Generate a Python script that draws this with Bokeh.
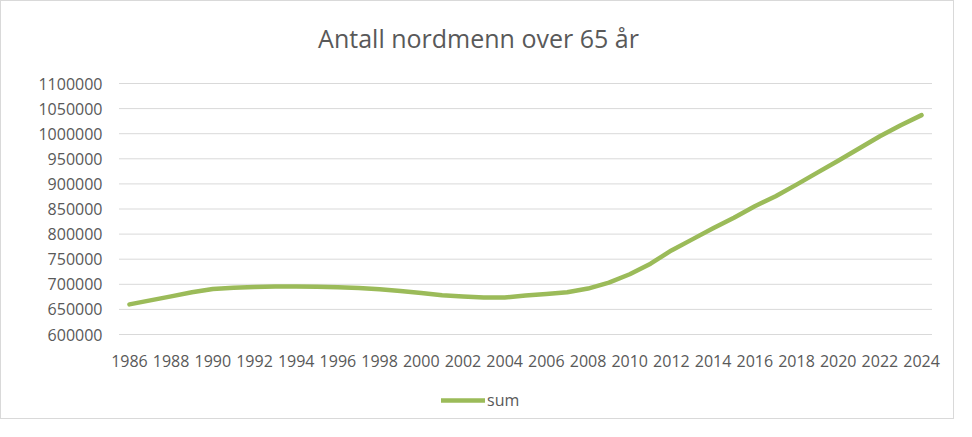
from bokeh.plotting import figure
from bokeh.models import (Range1d, FixedTicker, NumeralTickFormatter, Legend, LegendItem,
                          ColumnDataSource, Label)
from bokeh.embed import file_html
from bokeh.resources import INLINE

# ---- data ----
years = list(range(1986, 2025))
sum_values = [660000, 668000, 676000, 684000, 690500, 693000, 694500, 695500, 695500, 695000,
              694000, 692500, 690000, 686500, 682500, 678000, 675500, 673500, 673500, 677500,
              680500, 684000, 691500, 703500, 720000, 741000, 767500, 789500, 811500, 832500,
              855500, 875500, 898500, 922500, 946000, 970500, 995000, 1017000, 1037000]
x_tick_years = years[::2]
y_ticks = list(range(600000, 1100001, 50000))
title_text = "Antall nordmenn over 65 år"
series_name = "sum"

FONT = "Open Sans"
TXT = "#595959"
GRID = "#d9d9d9"
GREEN = "#9bbb59"

# layout (pixels) of the single frame that covers title, plot area and legend
W, H = 954, 419
LEFT, RIGHT = 105, 11
TOP_GRID_PX, BOTTOM_GRID_PX = 82, 333      # pixel rows of the top and bottom gridlines
TITLE_PX = 36                               # pixel row of the title centre
TITLE_CX_PX = 477                           # pixel column of the title centre
HALF, X_PAD = 0.5, 0.6                      # category half-band and end padding (years)

x0 = years[0] - HALF - X_PAD
x1 = years[-1] + HALF + X_PAD
px_per_year = (W - LEFT - RIGHT) / (x1 - x0)
val_per_px = (y_ticks[-1] - y_ticks[0]) / (BOTTOM_GRID_PX - TOP_GRID_PX)
y_top = y_ticks[-1] + TOP_GRID_PX * val_per_px
y_bottom = y_ticks[0] - (H - BOTTOM_GRID_PX) * val_per_px

p = figure(width=W, height=H, output_backend="svg", toolbar_location=None,
           x_range=Range1d(x0, x1), y_range=Range1d(y_bottom, y_top),
           min_border_left=LEFT, min_border_right=RIGHT, min_border_top=0, min_border_bottom=0)
p.title = None
p.outline_line_color = None
p.background_fill_color = "white"
p.border_fill_color = "white"
p.styles = {"border": "1px solid #d9d9d9"}

title = Label(x=x0 + (TITLE_CX_PX - LEFT) / px_per_year,
              y=y_ticks[-1] + (TOP_GRID_PX - TITLE_PX) * val_per_px,
              text=title_text, text_align="center", text_baseline="middle",
              text_font=FONT, text_font_size="25px", text_color=TXT)
p.add_layout(title)

# horizontal gridlines spanning the category extent only
grid_src = ColumnDataSource(dict(x0=[years[0] - HALF] * len(y_ticks),
                                 x1=[years[-1] + HALF] * len(y_ticks),
                                 y=y_ticks))
p.segment(x0="x0", y0="y", x1="x1", y1="y", source=grid_src, line_color=GRID, line_width=1)

src = ColumnDataSource(dict(x=years, y=sum_values))
r = p.line("x", "y", source=src, line_color=GREEN, line_width=4.5, line_cap="round",
           line_join="round")

# axes
p.xaxis.ticker = FixedTicker(ticks=x_tick_years)
p.xaxis.formatter = NumeralTickFormatter(format="0")
p.xaxis.fixed_location = y_ticks[0]
p.yaxis.ticker = FixedTicker(ticks=y_ticks)
p.yaxis.formatter = NumeralTickFormatter(format="0")
for ax in (p.xaxis[0], p.yaxis[0]):
    ax.axis_line_color = None
    ax.major_tick_line_color = None
    ax.minor_tick_line_color = None
    ax.major_tick_out = 0
    ax.major_tick_in = 0
    ax.minor_tick_out = 0
    ax.major_label_text_font = FONT
    ax.major_label_text_color = TXT
    ax.major_label_text_font_size = "16px"
p.yaxis.major_label_standoff = 4
p.xaxis.major_label_standoff = 20

p.xgrid.grid_line_color = None
p.ygrid.grid_line_color = None

legend = Legend(items=[LegendItem(label=series_name, renderers=[r])],
                location=(335, 9), orientation="horizontal",
                glyph_width=44, glyph_height=20, label_standoff=2,
                padding=0, margin=0,
                label_text_font=FONT, label_text_font_size="16px", label_text_color=TXT,
                border_line_color=None, background_fill_alpha=0)
p.add_layout(legend, "center")

open("out.html", "w").write(file_html(p, INLINE))
